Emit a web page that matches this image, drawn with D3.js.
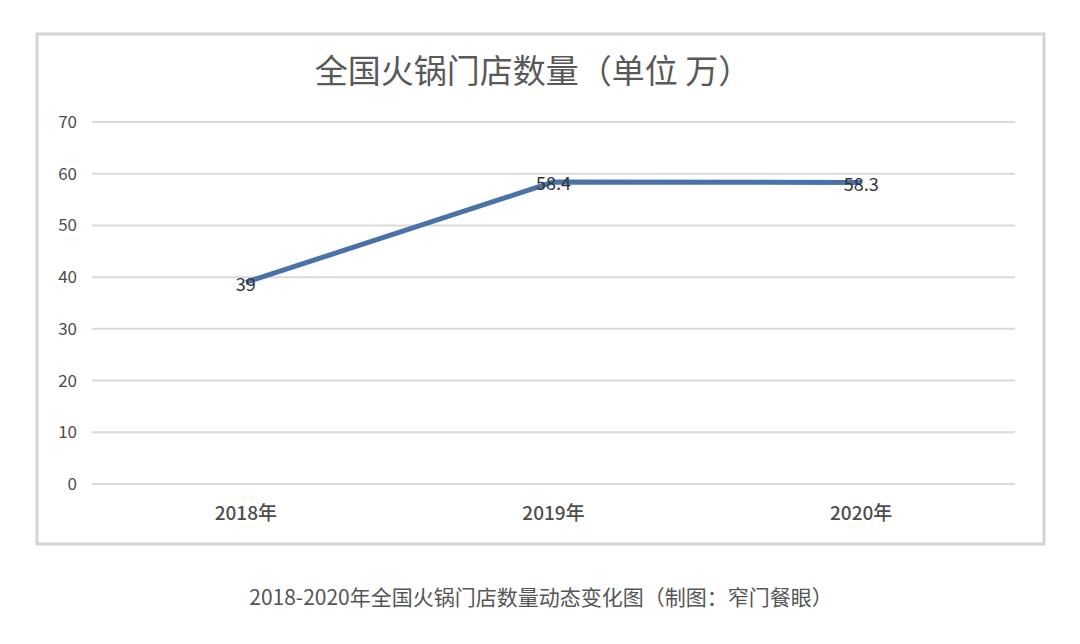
<!DOCTYPE html>
<html>
<head>
<meta charset="utf-8">
<script src="https://cdn.jsdelivr.net/npm/d3@7"></script>
<style>
  body { margin: 0; background: #fff; }
  svg { display: block; font-family: "Noto Sans CJK SC", "Noto Sans", sans-serif; }
</style>
</head>
<body>
<script>
// Chart data
const years = ["2018年", "2019年", "2020年"];
const stores = [39, 58.4, 58.3];
const labels = ["39", "58.4", "58.3"];
const yTicks = [0, 10, 20, 30, 40, 50, 60, 70];

const width = 1080, height = 644;
const svg = d3.select("body").append("svg").attr("width", width).attr("height", height);

// Chart frame
svg.append("rect")
    .attr("x", 37).attr("y", 34)
    .attr("width", 1007).attr("height", 510)
    .attr("fill", "#fff")
    .attr("stroke", "#d4d4d4")
    .attr("stroke-width", 3);

// Scales
const x = d3.scaleBand().domain(years).range([92, 1015]);
const y = d3.scaleLinear().domain([0, 70]).range([484, 122]);

// Gridlines
svg.selectAll("line.grid")
    .data(yTicks)
    .enter()
    .append("line")
    .attr("class", "grid")
    .attr("x1", 92).attr("x2", 1015)
    .attr("y1", d => y(d)).attr("y2", d => y(d))
    .attr("stroke", "#d9d9d9")
    .attr("stroke-width", 2);

// Y axis labels
svg.selectAll("text.ytick")
    .data(yTicks)
    .enter()
    .append("text")
    .attr("class", "ytick")
    .attr("x", 77)
    .attr("y", d => y(d))
    .attr("dy", "0.35em")
    .attr("text-anchor", "end")
    .attr("font-size", "17px")
    .attr("fill", "#4d4d4d")
    .text(d => d);

// X axis labels
svg.selectAll("text.xtick")
    .data(years)
    .enter()
    .append("text")
    .attr("class", "xtick")
    .attr("x", d => x(d) + x.bandwidth() / 2)
    .attr("y", 520)
    .attr("text-anchor", "middle")
    .attr("font-size", "19px")
    .attr("font-weight", "500")
    .attr("fill", "#4d4d4d")
    .text(d => d);

// Line
const line = d3.line()
    .x((d, i) => x(years[i]) + x.bandwidth() / 2)
    .y(d => y(d));

svg.append("path")
    .datum(stores)
    .attr("d", line)
    .attr("fill", "none")
    .attr("stroke", "#4a72a8")
    .attr("stroke-width", 5)
    .attr("stroke-linejoin", "round");

// Value labels, centred on the points
svg.selectAll("text.value")
    .data(stores)
    .enter()
    .append("text")
    .attr("class", "value")
    .attr("x", (d, i) => x(years[i]) + x.bandwidth() / 2)
    .attr("y", d => y(d) + 2)
    .attr("dy", "0.35em")
    .attr("text-anchor", "middle")
    .attr("font-size", "18px")
    .attr("fill", "#333")
    .text((d, i) => labels[i]);

// Title
svg.append("text")
    .attr("x", 533)
    .attr("y", 83)
    .attr("text-anchor", "middle")
    .attr("font-size", "33px")
    .attr("fill", "#595959")
    .text("全国火锅门店数量（单位 万）");

// Caption
svg.append("text")
    .attr("x", 541)
    .attr("y", 605)
    .attr("text-anchor", "middle")
    .attr("font-size", "21px")
    .attr("fill", "#555")
    .text("2018-2020年全国火锅门店数量动态变化图（制图：窄门餐眼）");
</script>
</body>
</html>
